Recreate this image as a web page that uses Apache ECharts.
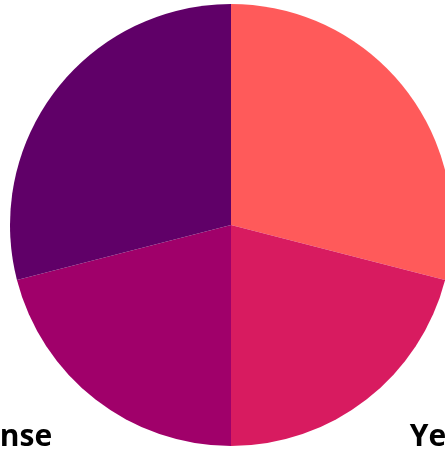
<!DOCTYPE html>
<html>
<head>
<meta charset="utf-8">
<script src="https://cdn.jsdelivr.net/npm/echarts@6/dist/echarts.min.js"></script>
<style>
  html, body { margin: 0; padding: 0; background: #fff; }
  #chart { width: 445px; height: 450px; }
</style>
</head>
<body>
<div id="chart"></div>
<script>
const names = ['No', 'Yes', 'No response', 'Maybe']
const values = [29, 21, 21, 29]
const colors = ['#ff5a5a', '#d81b60', '#a0006a', '#600068']
// only the two lower labels fall inside the visible area
const showLabel = [false, true, true, false]

const chart = echarts.init(document.getElementById('chart'))

chart.setOption({
  animation: false,
  color: colors,
  series: [
    {
      type: 'pie',
      center: [231, 225],
      radius: 221,
      startAngle: 90,
      clockwise: true,
      avoidLabelOverlap: false,
      data: names.map((n, i) => ({
        name: n,
        value: values[i],
        label: { show: showLabel[i] }
      })),
      label: {
        position: 'outside',
        fontFamily: 'Open Sans',
        fontWeight: 'bold',
        fontSize: 30,
        color: '#000'
      },
      labelLine: {
        show: false,
        length: 48,
        length2: 9
      },
      itemStyle: { borderWidth: 0 }
    }
  ]
})
</script>
</body>
</html>
